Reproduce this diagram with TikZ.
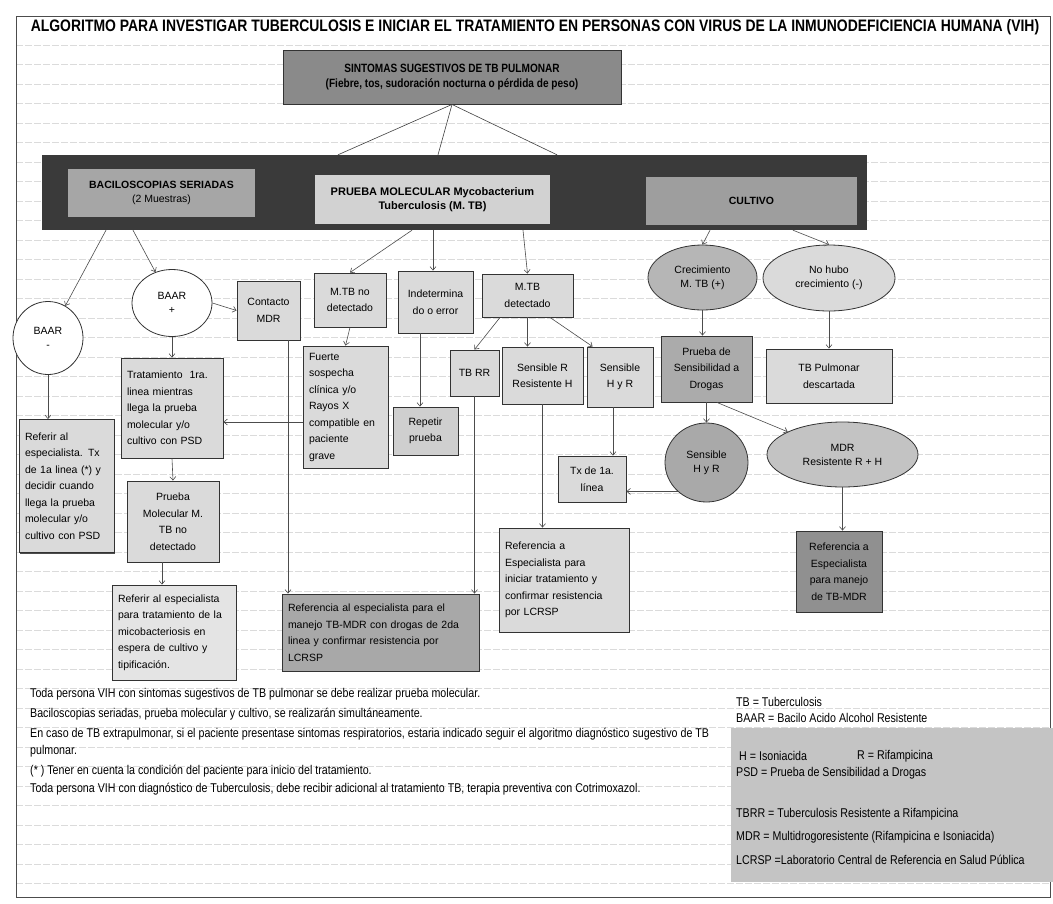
\documentclass[tikz,border=0pt]{standalone}
\usepackage{fontspec}
\setmainfont{Liberation Sans}
\newfontfamily\narrowfont[FakeStretch=0.84]{Liberation Sans}
\usetikzlibrary{positioning,arrows.meta,shapes.geometric,shadows}

\definecolor{lightbox}{HTML}{DADADA}
\definecolor{palebox}{HTML}{E4E4E4}
\definecolor{symgray}{HTML}{8A8A8A}
\definecolor{bandgray}{HTML}{3A3A3A}
\definecolor{bacgray}{HTML}{A6A6A6}
\definecolor{molgray}{HTML}{D2D2D2}
\definecolor{culgray}{HTML}{9E9E9E}
\definecolor{repgray}{HTML}{CFCFCF}
\definecolor{mdrgray}{HTML}{A8A8A8}
\definecolor{crecgray}{HTML}{B6B6B6}
\definecolor{psdgray}{HTML}{ABABAB}
\definecolor{senscgray}{HTML}{A9A9A9}
\definecolor{mdrogray}{HTML}{C3C3C3}
\definecolor{refrgray}{HTML}{909090}
\definecolor{leggray}{HTML}{C4C4C4}

\begin{document}
\begin{tikzpicture}[x=1pt, y=-1pt,
  box/.style={draw=black!80, line width=0.9pt, fill=lightbox, align=center, inner sep=2pt,
    font=\fontsize{10.5}{16.5}\selectfont,
    drop shadow={shadow xshift=1.2pt, shadow yshift=-1.2pt, fill=black!70, opacity=1}},
  lbox/.style={box, align=left, inner xsep=6pt, text width=#1},
  oval/.style={ellipse, draw=black!80, line width=0.8pt, inner sep=0pt, align=center,
    font=\fontsize{10.5}{14}\selectfont},
  bandbox/.style={inner sep=2pt, align=center, font=\fontsize{10.5}{14}\selectfont\bfseries},
  arr/.style={-{Straight Barb[length=3.5pt,width=6pt]}, draw=black!70, line width=0.6pt},
  ln/.style={draw=black!75, line width=0.6pt},
  note/.style={anchor=west, inner sep=0pt, font=\narrowfont\fontsize{12.7}{14}\selectfont},
  gridln/.style={draw=black!14, line width=0.4pt, dash pattern=on 7pt off 2pt}
]
\useasboundingbox (0,0) rectangle (1053,903);
\fill[white] (0,0) rectangle (1053,903);
\foreach \gy in {45,64.5,...,885}
  \draw[gridln] (16,\gy) -- (1050,\gy);
\draw[black!70, line width=0.8pt] (16,16) rectangle (1050,897);

\node[font=\narrowfont\bfseries\fontsize{16.6}{18}\selectfont] (title) at (535,27) {ALGORITMO PARA INVESTIGAR TUBERCULOSIS E INICIAR EL TRATAMIENTO EN PERSONAS CON VIRUS DE LA INMUNODEFICIENCIA HUMANA (VIH)};

% sintomas y pruebas
\node[box, fill=symgray, minimum width=338pt, minimum height=54pt, font=\narrowfont\bfseries\fontsize{12}{15}\selectfont] (sint) at (452,77) {SINTOMAS SUGESTIVOS DE TB PULMONAR\\(Fiebre, tos, sudoración nocturna o pérdida de peso)};
\node[fill=bandgray, minimum width=825pt, minimum height=75pt, inner sep=0pt] (band) at (454.5,192.5) {};
\node[bandbox, fill=bacgray, minimum width=187pt, minimum height=48pt] (bacilo) at (161.5,193) {BACILOSCOPIAS SERIADAS\\\mdseries(2 Muestras)};
\node[bandbox, fill=molgray, minimum width=235pt, minimum height=49pt, font=\fontsize{11}{14}\selectfont\bfseries] (molec) at (432.5,199.5) {PRUEBA MOLECULAR Mycobacterium\\Tuberculosis (M. TB)};
\node[bandbox, fill=culgray, minimum width=211pt, minimum height=48pt] (cultivo) at (751.5,201) {CULTIVO};

% baciloscopias
\node[oval, fill=white, minimum width=70pt, minimum height=73pt] (baarneg) at (48,338) {BAAR\\-};
\node[oval, fill=white, minimum width=80pt, minimum height=67pt] (baarpos) at (172,303) {BAAR\\+};
\node[box, minimum width=63pt, minimum height=59pt] (contacto) at (268.5,310.5) {Contacto\\MDR};
\node[lbox=83pt, minimum height=133pt] (referir1) at (66.5,486) {Referir al\\especialista. Tx\\de 1a linea (*) y\\decidir cuando\\llega la prueba\\molecular y/o\\cultivo con PSD};
\node[lbox=90pt, minimum height=100pt] (tratam) at (172,408) {Tratamiento\ \ 1ra.\\linea mientras\\llega la prueba\\molecular y/o\\cultivo con PSD};
\node[box, minimum width=92pt, minimum height=81pt] (pmnodet) at (173,521.5) {Prueba\\Molecular M.\\TB no\\detectado};
\node[lbox=112pt, fill=palebox, minimum height=95pt] (referir2) at (174,632.5) {Referir al especialista\\para tratamiento de la\\micobacteriosis en\\espera de cultivo y\\tipificación.};

% prueba molecular
\node[box, minimum width=72pt, minimum height=54pt] (mtbno) at (350,300) {M.TB no\\detectado};
\node[box, minimum width=75pt, minimum height=62pt] (indet) at (435.5,302) {Indetermina\\do o error};
\node[box, minimum width=91pt, minimum height=43pt] (mtbdet) at (527.5,295.5) {M.TB\\detectado};
\node[lbox=73pt, minimum height=122pt] (fuerte) at (345.5,407) {Fuerte\\sospecha\\clínica y/o\\Rayos X\\compatible en\\paciente\\grave};
\node[box, fill=repgray, minimum width=65pt, minimum height=48pt] (repetir) at (425.5,431) {Repetir\\prueba};
\node[lbox=185pt, fill=mdrgray, minimum height=77pt] (refmdr) at (380.5,632.5) {Referencia al especialista para el\\manejo TB-MDR con drogas de 2da\\linea y confirmar resistencia por\\LCRSP};
\node[box, minimum width=49pt, minimum height=46pt] (tbrr) at (474.5,373) {TB RR};
\node[box, minimum width=81pt, minimum height=57pt] (sensrh) at (542.5,375.5) {Sensible R\\Resistente H};
\node[box, minimum width=66pt, minimum height=60pt] (senshr) at (620,377) {Sensible\\H y R};
\node[box, minimum width=68pt, minimum height=46pt] (tx1) at (592,479) {Tx de 1a.\\línea};
\node[lbox=118pt, minimum height=104pt] (refini) at (564,580) {Referencia a\\Especialista para\\iniciar tratamiento y\\confirmar resistencia\\por LCRSP};

% cultivo
\node[oval, fill=crecgray, minimum width=109pt, minimum height=65pt] (crec) at (702.5,277.5) {Crecimiento\\M. TB (+)};
\node[oval, fill=lightbox, minimum width=132pt, minimum height=66pt] (nohubo) at (829,278) {No hubo\\crecimiento (-)};
\node[box, fill=psdgray, minimum width=91pt, minimum height=66pt] (psd) at (706.5,369) {Prueba de\\Sensibilidad a\\Drogas};
\node[box, minimum width=126pt, minimum height=54pt] (tbdesc) at (829,376) {TB Pulmonar\\descartada};
\node[oval, fill=senscgray, minimum width=83pt, minimum height=79pt] (senscirc) at (706.5,462.5) {Sensible\\H y R};
\node[oval, fill=mdrogray, minimum width=151pt, minimum height=65pt] (mdr) at (842.5,454.5) {MDR\\Resistente R + H};
\node[box, fill=refrgray, minimum width=86pt, minimum height=81pt] (refright) at (839,571.5) {Referencia a\\Especialista\\para manejo\\de TB-MDR};

% conectores
\draw[ln] (sint.south) -- (338,0 |- band.north);
\draw[ln] (sint.south) -- (438,0 |- band.north);
\draw[ln] (sint.south) -- (557,0 |- band.north);
\draw[arr] (106,0 |- band.south) -- (baarneg);
\draw[arr] (133,0 |- band.south) -- (baarpos);
\draw[arr] (baarpos.east) -- (contacto.west);
\draw[arr] (baarneg.south) -- (baarneg.south |- referir1.north);
\draw[arr] (baarpos.south) -- (tratam.north);
\coordinate (fw) at ([yshift=-15pt]fuerte.west);
\draw[arr] (fw) -- (fw -| tratam.east);
\draw[arr] (tratam.south) -- (pmnodet.north);
\draw[arr] (162,0 |- pmnodet.south) -- (162,0 |- referir2.north);
\draw[arr] (412,0 |- band.south) -- (mtbno.north);
\draw[arr] (433,0 |- band.south) -- (433,0 |- indet.north);
\draw[arr] (523,0 |- band.south) -- (mtbdet.north);
\draw[arr] (288,0 |- contacto.south) -- (288,0 |- refmdr.north);
\draw[arr] (mtbno.south) -- (fuerte.north);
\draw[arr] (420,0 |- indet.south) -- (420,0 |- repetir.north);
\draw[arr] (tbrr.south) -- (tbrr.south |- refmdr.north);
\draw[arr] (500,0 |- mtbdet.south) -- (tbrr.north);
\draw[arr] (mtbdet.south) -- (mtbdet.south |- sensrh.north);
\draw[arr] (550,0 |- mtbdet.south) -- ([xshift=6pt]senshr.north west);
\draw[arr] (613,0 |- senshr.south) -- (613,0 |- tx1.north);
\draw[arr] (sensrh.south) -- (sensrh.south |- refini.north);
\draw[arr] (710,0 |- band.south) -- (crec.north);
\draw[arr] (793,0 |- band.south) -- (nohubo.north);
\draw[arr] (crec.south) -- (crec.south |- psd.north);
\draw[arr] (nohubo.south) -- (tbdesc.north);
\draw[arr] (psd.south) -- (senscirc.north);
\draw[arr] (717,0 |- psd.south) -- (mdr);
\draw[arr] (senscirc.225) -- (senscirc.225 -| tx1.east);
\draw[arr] (mdr.south) -- (mdr.south |- refright.north);

% notas
\node[note] (n1) at (30,694) {Toda persona VIH con sintomas sugestivos de TB pulmonar se debe realizar prueba molecular.};
\node[note] (n2) at (30,714) {Baciloscopias seriadas, prueba molecular y cultivo, se realizarán simultáneamente.};
\node[note] (n3) at (30,734) {En caso de TB extrapulmonar, si el paciente presentase sintomas respiratorios, estaria indicado seguir el algoritmo diagnóstico sugestivo de TB};
\node[note] (n3b) at (30,751) {pulmonar.};
\node[note] (n4) at (30,771) {(* ) Tener en cuenta la condición del paciente para inicio del tratamiento.};
\node[note] (n5) at (30,789) {Toda persona VIH con diagnóstico de Tuberculosis, debe recibir adicional al tratamiento TB, terapia preventiva con Cotrimoxazol.};

% abreviaturas
\node[fill=leggray, minimum width=322pt, minimum height=154pt, inner sep=0pt] (legbg) at (892,805) {};
\node[note] (ab1) at (736,702) {TB = Tuberculosis};
\node[note] (ab2) at (736,718) {BAAR = Bacilo Acido Alcohol Resistente};
\node[note] (ab3) at (739,756) {H = Isoniacida};
\node[note] (ab4) at (857,756) {R = Rifampicina};
\node[note] (ab5) at (736,773) {PSD = Prueba de Sensibilidad a Drogas};
\node[note] (ab6) at (736,814) {TBRR = Tuberculosis Resistente a Rifampicina};
\node[note] (ab7) at (736,837) {MDR = Multidrogoresistente (Rifampicina e Isoniacida)};
\node[note] (ab8) at (736,860) {LCRSP =Laboratorio Central de Referencia en Salud Pública};
\end{tikzpicture}
\end{document}
